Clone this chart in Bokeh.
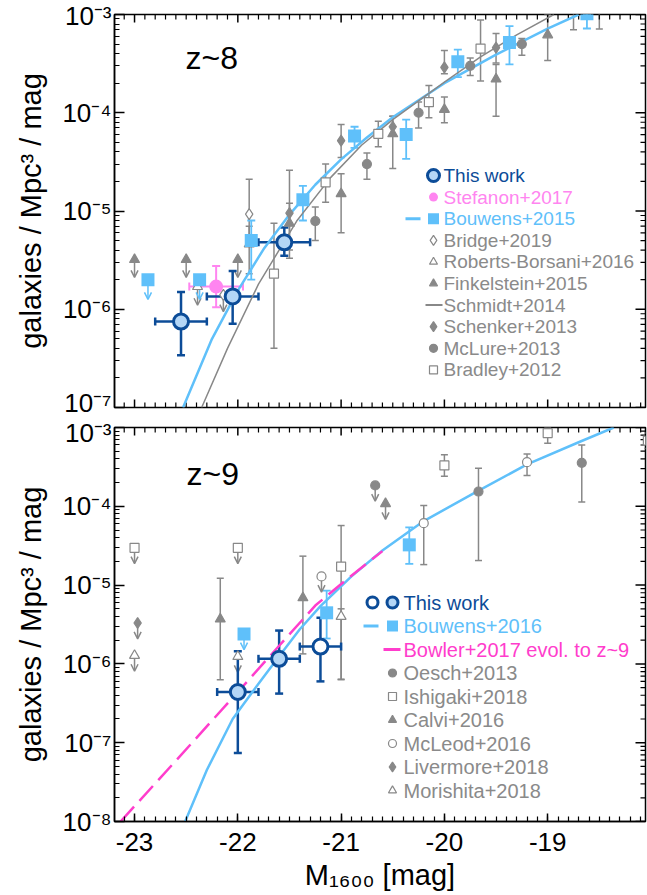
import math
from bokeh.plotting import figure
from bokeh.layouts import column
from bokeh.models import (Range1d, LinearScale, FixedTicker, CustomJSTickFormatter,
                          ColumnDataSource, Whisker, TeeHead, Arrow, OpenHead)
from bokeh.core.properties import value
from bokeh.embed import file_html
from bokeh.resources import INLINE

# ======================= z ~ 8 =======================
# This work
tw8_M = [-22.55, -22.05, -21.55]
tw8_phi = [7.5e-7, 1.35e-6, 4.8e-6]
tw8_hi = [1.5e-6, 2.45e-6, 6.8e-6]
tw8_lo = [3.4e-7, 7.1e-7, 3.5e-6]
tw8_dM = [0.25, 0.25, 0.25]

# Stefanon+2017
stef_M = [-22.21]
stef_phi = [1.7e-6]
stef_hi = [2.75e-6]
stef_lo = [1.05e-6]
stef_dM = [0.26]

# Bouwens+2015 (points, upper limits and Schechter fit)
b15_M = [-21.87, -21.37, -20.87, -20.37, -19.87, -19.37, -18.62]
b15_phi = [5.0e-6, 1.3e-5, 5.8e-5, 6.0e-5, 3.3e-4, 5.2e-4, 1.02e-3]
b15_hi = [8.0e-6, 1.8e-5, 7.2e-5, 8.5e-5, 4.4e-4, 7.6e-4, 1.0e-3]
b15_lo = [2.0e-6, 8.0e-6, 4.4e-5, 3.4e-5, 2.3e-4, 3.1e-4, 7.2e-4]
b15_ul_M = [-22.87, -22.37]
b15_ul_phi = [2.0e-6, 2.0e-6]
b15_fit_M = [-22.53, -22.25, -22.0, -21.75, -21.5, -21.25, -21.0, -20.75,
             -20.5, -20.0, -19.5, -19.0, -18.7]
b15_fit_phi = [1.0e-7, 5.0e-7, 1.55e-6, 4.1e-6, 9.2e-6, 1.85e-5, 3.35e-5,
               5.6e-5, 9.0e-5, 2.0e-4, 3.9e-4, 7.2e-4, 1.0e-3]

# Bridge+2019
bri_M = [-21.89]
bri_phi = [9.3e-6]
bri_hi = [2.1e-5]
bri_lo = [4.6e-6]
bri_ul_M = [-22.14]
bri_ul_phi = [1.4e-6]

# Roberts-Borsani+2016
rb_M = [-21.89]
rb_phi = [4.6e-6]
rb_hi = [7.0e-6]
rb_lo = [2.3e-6]
rb_ul_M = [-22.39]
rb_ul_phi = [1.7e-6]

# Finkelstein+2015
fink_M = [-21.5, -21.0, -20.5, -20.0, -19.5, -19.0, -18.5]
fink_phi = [7.5e-6, 1.5e-5, 6.1e-5, 1.08e-4, 2.2e-4, 6.2e-4, 1.3e-3]
fink_hi = [1.2e-5, 2.4e-5, 9.2e-5, 1.45e-4, 3.1e-4, 1.0e-3, 1.6e-3]
fink_lo = [3.3e-6, 6.0e-6, 2.7e-5, 7.9e-5, 9.2e-5, 3.4e-4, 7.1e-4]
fink_ul_M = [-23.0, -22.5, -22.0]
fink_ul_phi = [3.2e-6, 3.2e-6, 3.2e-6]

# Schmidt+2014 fit
sch_fit_M = [-22.35, -22.1, -21.8, -21.43, -21.1, -20.8, -20.5, -20.0,
             -19.65, -19.3, -18.94]
sch_fit_phi = [1.0e-7, 4.0e-7, 1.8e-6, 7.9e-6, 2.2e-5, 4.7e-5, 8.5e-5,
               2.05e-4, 3.7e-4, 6.2e-4, 1.0e-3]

# Schenker+2013
sk_M = [-21.5, -21.0, -20.5, -20.0, -19.5]
sk_phi = [9.5e-6, 5.2e-5, 7.2e-5, 2.9e-4, 4.6e-4]
sk_hi = [2.6e-5, 7.6e-5, 9.2e-5, 4.3e-4, 6.4e-4]
sk_lo = [4.0e-6, 3.5e-5, 5.8e-5, 2.5e-4, 3.2e-4]

# McLure+2013
mc_M = [-21.25, -20.75, -20.25, -19.75, -19.25, -18.75]
mc_phi = [7.9e-6, 3.0e-5, 1.0e-4, 3.0e-4, 5.0e-4, 1.2e-3]
mc_hi = [1.1e-5, 3.9e-5, 1.29e-4, 3.6e-4, 5.7e-4, 1.5e-3]
mc_lo = [5.0e-6, 2.1e-5, 7.0e-5, 2.4e-4, 3.85e-4, 7.0e-4]

# Bradley+2012
br_M = [-21.65, -21.15, -20.64, -20.15, -19.65]
br_phi = [2.3e-6, 1.96e-5, 6.1e-5, 1.28e-4, 4.5e-4]
br_hi = [7.5e-6, 3.0e-5, 8.2e-5, 1.89e-4, 8.8e-4]
br_lo = [4.0e-7, 1.23e-5, 4.5e-5, 8.9e-5, 2.1e-4]

# ======================= z ~ 9 =======================
# This work (filled and open points)
tw9_M = [-22.0, -21.6]
tw9_phi = [4.4e-7, 1.16e-6]
tw9_hi = [1.45e-6, 2.65e-6]
tw9_lo = [7.4e-8, 4.2e-7]
tw9o_M = [-21.2]
tw9o_phi = [1.66e-6]
tw9o_hi = [3.85e-6]
tw9o_lo = [6.0e-7]
tw9_dM = 0.2

# Bouwens+2016
b16_M = [-21.14, -20.34]
b16_phi = [4.45e-6, 3.24e-5]
b16_hi = [8.5e-6, 5.4e-5]
b16_lo = [2.1e-6, 1.86e-5]
b16_ul_M = [-21.94]
b16_ul_phi = [2.4e-6]
b16_fit_M = [-22.51, -22.3, -22.05, -21.8, -21.6, -21.4, -21.2, -20.9,
             -20.6, -20.2, -19.7, -19.2, -18.7, -18.36]
b16_fit_phi = [1.0e-8, 4.5e-8, 2.0e-7, 5.6e-7, 1.25e-6, 2.75e-6, 5.4e-6,
               1.29e-5, 2.75e-5, 6.5e-5, 1.5e-4, 3.4e-4, 6.5e-4, 1.0e-3]

# Bowler+2017 evolved to z~9
bow_M = [-23.135, -22.6, -22.0, -21.6, -21.25, -20.95, -20.6]
bow_phi = [1.0e-8, 5.9e-8, 4.4e-7, 1.7e-6, 5.5e-6, 1.17e-5, 2.7e-5]

# Oesch+2013
oe_M = [-19.67, -18.67]
oe_phi = [1.54e-4, 3.56e-4]
oe_hi = [3.05e-4, 6.0e-4]
oe_lo = [2.05e-5, 1.13e-4]
oe_ul_M = [-20.67]
oe_ul_phi = [1.84e-4]

# Ishigaki+2018
ish_M = [-21.0, -20.0, -19.0, -18.03]
ish_phi = [1.72e-5, 3.3e-4, 8.5e-4, 6.8e-4]
ish_hi = [5.7e-5, 4.5e-4, 1.0e-3, 8.5e-4]
ish_lo = [6.4e-7, 2.4e-4, 6.3e-4, 5.4e-4]
ish_ul_M = [-23.0, -22.0]
ish_ul_phi = [2.97e-5, 2.97e-5]

# Calvi+2016
cal_M = [-22.17, -21.37]
cal_phi = [3.7e-6, 6.9e-6]
cal_hi = [1.22e-5, 2.33e-5]
cal_lo = [6.3e-7, 1.34e-6]
cal_ul_M = [-20.57]
cal_ul_phi = [1.08e-4]

# McLeod+2016
mcl_M = [-20.2, -19.2]
mcl_phi = [6.1e-5, 3.63e-4]
mcl_hi = [1.02e-4, 4.6e-4]
mcl_lo = [1.82e-5, 2.46e-4]
mcl_ul_M = [-21.19]
mcl_ul_phi = [1.29e-5]

# Livermore+2018
liv_ul_M = [-22.97]
liv_ul_phi = [3.3e-6]

# Morishita+2018
mor_M = [-21.0]
mor_phi = [4.0e-6]
mor_hi = [5.0e-6]
mor_lo = [6.3e-7]
mor_ul_M = [-23.0, -22.0]
mor_ul_phi = [1.28e-6, 1.24e-6]

# axis ticks and key labels
x_major = [-23, -22, -21, -20, -19]
leg8_labels = ["This work", "Stefanon+2017", "Bouwens+2015", "Bridge+2019",
               "Roberts-Borsani+2016", "Finkelstein+2015", "Schmidt+2014",
               "Schenker+2013", "McLure+2013", "Bradley+2012"]
leg9_labels = ["This work", "Bouwens+2016", "Bowler+2017 evol. to z~9",
               "Oesch+2013", "Ishigaki+2018", "Calvi+2016", "McLeod+2016",
               "Livermore+2018", "Morishita+2018"]

# ---------------- styling ----------------
FONT = "Liberation Sans"
XMIN, XMAX = -23.194, -18.053
FRAME_W = 531
C_TW_EDGE = "#0c4c98"
C_TW_FILL = "#b4d6f6"
C_BOUW = "#5fc0fa"
C_STEF = "#ff85f0"
C_BOWL = "#ff3dcc"
C_GRAY = "#888888"
C_GRAY_TXT = "#8a8a8a"

SUPER_JS = """
const e = Math.round(Math.log10(tick));
const sup = {"-": "\u207b", "0": "\u2070", "1": "\u00b9", "2": "\u00b2", "3": "\u00b3",
             "4": "\u2074", "5": "\u2075", "6": "\u2076", "7": "\u2077", "8": "\u2078",
             "9": "\u2079"};
let s = "";
for (const c of String(e)) { s += sup[c]; }
return "10" + s;
"""
HYPHEN_JS = "return (tick < 0 ? '-' : '') + String(Math.abs(tick));"

MINOR_X = [round(-23.1 + 0.1 * i, 2) for i in range(51)]


def style_axis(ax, tick_in):
    ax.major_tick_in = tick_in
    ax.minor_tick_in = 5
    ax.major_tick_out = 0
    ax.minor_tick_out = 0
    ax.axis_line_width = 1.5
    ax.axis_line_color = "black"
    ax.major_tick_line_width = 1.5
    ax.minor_tick_line_width = 1.2
    ax.major_tick_line_color = "black"
    ax.minor_tick_line_color = "black"
    ax.major_label_text_font = FONT
    ax.major_label_text_font_size = "26px"
    ax.major_label_text_color = "black"
    ax.axis_label_text_font = FONT
    ax.axis_label_text_font_size = "29px"
    ax.axis_label_text_font_style = "normal"
    ax.axis_label_text_color = "black"


def mirror_ticks(p, emin, emax, frame_h, bottom_too):
    """Inward tick marks on the unlabelled sides, drawn in frame pixels."""
    span = XMAX - XMIN
    def xp(m):
        return (m - XMIN) / span * FRAME_W
    def yp(v):
        return (math.log10(v) - emin) / (emax - emin) * frame_h
    xs_major = [xp(m) for m in x_major]
    xs_minor = [xp(m) for m in MINOR_X if m not in x_major]
    ys_major = [yp(10.0 ** e) for e in range(emin, emax + 1)]
    ys_minor = [yp(k * 10.0 ** e) for e in range(emin, emax) for k in range(2, 10)]
    kw = dict(line_color="black", x_range_name="px", y_range_name="px")
    # top side
    p.segment(xs_major, [frame_h] * len(xs_major), xs_major, [frame_h - 8] * len(xs_major),
              line_width=1.5, **kw)
    p.segment(xs_minor, [frame_h] * len(xs_minor), xs_minor, [frame_h - 5] * len(xs_minor),
              line_width=1.2, **kw)
    if bottom_too:
        p.segment(xs_major, [0] * len(xs_major), xs_major, [8] * len(xs_major),
                  line_width=1.5, **kw)
        p.segment(xs_minor, [0] * len(xs_minor), xs_minor, [5] * len(xs_minor),
                  line_width=1.2, **kw)
    # right side
    p.segment([FRAME_W] * len(ys_major), ys_major, [FRAME_W - 10] * len(ys_major), ys_major,
              line_width=1.5, **kw)
    p.segment([FRAME_W] * len(ys_minor), ys_minor, [FRAME_W - 5] * len(ys_minor), ys_minor,
              line_width=1.2, **kw)


def panel(emin, emax, height, b_top, b_bottom, frame_h, labelled):
    p = figure(width=647, height=height,
               x_range=Range1d(XMIN, XMAX),
               y_range=Range1d(10.0 ** emin, 10.0 ** emax),
               y_axis_type="log", output_backend="svg", toolbar_location=None,
               min_border_left=114, min_border_right=2,
               min_border_top=b_top, min_border_bottom=b_bottom)
    p.xgrid.visible = False
    p.ygrid.visible = False
    p.outline_line_color = "black"
    p.outline_line_width = 1.5
    p.background_fill_color = "white"
    p.border_fill_color = "white"

    p.extra_x_ranges = {"px": Range1d(0, FRAME_W)}
    p.extra_y_ranges = {"px": Range1d(0, frame_h)}
    p.extra_x_scales = {"px": LinearScale()}
    p.extra_y_scales = {"px": LinearScale()}

    yt = FixedTicker(ticks=[10.0 ** e for e in range(emin, emax + 1)],
                     minor_ticks=[k * 10.0 ** e for e in range(emin, emax) for k in range(2, 10)])
    left = p.left[0]
    left.ticker = yt
    left.formatter = CustomJSTickFormatter(code=SUPER_JS)
    style_axis(left, 10)
    left.axis_label = "galaxies / Mpc\u00b3 / mag"
    left.major_label_standoff = 3
    left.axis_label_standoff = 12

    bot = p.below[0]
    if labelled:
        bot.ticker = FixedTicker(ticks=x_major, minor_ticks=MINOR_X)
        bot.formatter = CustomJSTickFormatter(code=HYPHEN_JS)
        style_axis(bot, 8)
        bot.axis_label = "M\u2081\u2086\u2080\u2080 [mag]"
        bot.major_label_standoff = 11
        bot.axis_label_standoff = 5
    else:
        bot.visible = False
    mirror_ticks(p, emin, emax, frame_h, not labelled)
    return p


def yerr(p, x, y, lo, hi, color, lw=1.5, cap=7):
    src = ColumnDataSource(dict(x=x, y=y, lo=lo, hi=hi))
    p.add_layout(Whisker(source=src, base="x", lower="lo", upper="hi", dimension="height",
                         line_color=color, line_width=lw, level="underlay",
                         lower_head=TeeHead(size=cap, line_color=color, line_width=lw),
                         upper_head=TeeHead(size=cap, line_color=color, line_width=lw)))


def xerr(p, x, y, dx, color, lw=2.5, cap=8):
    src = ColumnDataSource(dict(y=y, lo=[a - d for a, d in zip(x, dx)],
                                hi=[a + d for a, d in zip(x, dx)]))
    p.add_layout(Whisker(source=src, base="y", lower="lo", upper="hi", dimension="width",
                         line_color=color, line_width=lw, level="underlay",
                         lower_head=TeeHead(size=cap, line_color=color, line_width=lw),
                         upper_head=TeeHead(size=cap, line_color=color, line_width=lw)))


def limits(p, x, y, color, drop, lw=1.5):
    src = ColumnDataSource(dict(x=x, y=y, ye=[v * 10 ** (-drop) for v in y]))
    p.add_layout(Arrow(source=src, x_start="x", y_start="y", x_end="x", y_end="ye",
                       line_color=color, line_width=lw, level="underlay",
                       end=OpenHead(size=7, line_color=color, line_width=lw)))


def pts(p, x, y, marker, size, fill, edge, lw=1.2):
    p.scatter(x, y, marker=marker, size=size, fill_color=fill, line_color=edge,
              line_width=lw)


def key_text(p, x, y, txt, color, size):
    p.text([x], [y], text=[txt], x_range_name="px", y_range_name="px",
           text_font=value(FONT), text_font_size=value(size), text_color=color,
           text_baseline="middle", text_align="left")


def key_marker(p, x, y, marker, size, fill, edge, lw=1.2):
    p.scatter([x], [y], marker=marker, size=size, fill_color=fill, line_color=edge,
              line_width=lw, x_range_name="px", y_range_name="px")


def key_line(p, x0, x1, y, color, lw):
    p.line([x0, x1], [y, y], line_color=color, line_width=lw,
           x_range_name="px", y_range_name="px")


# ======================= top panel: z ~ 8 =======================
top = panel(-7, -3, 417, 14, 10, 393, False)
top.line(b15_fit_M, b15_fit_phi, line_color=C_BOUW, line_width=2.5)
top.line(sch_fit_M, sch_fit_phi, line_color=C_GRAY, line_width=1.5)

for M, ph, lo, hi in [(bri_M, bri_phi, bri_lo, bri_hi), (rb_M, rb_phi, rb_lo, rb_hi),
                      (fink_M, fink_phi, fink_lo, fink_hi), (sk_M, sk_phi, sk_lo, sk_hi),
                      (mc_M, mc_phi, mc_lo, mc_hi), (br_M, br_phi, br_lo, br_hi)]:
    yerr(top, M, ph, lo, hi, C_GRAY)
yerr(top, b15_M, b15_phi, b15_lo, b15_hi, C_BOUW, lw=1.8, cap=8)
limits(top, fink_ul_M, fink_ul_phi, C_GRAY, 0.18)
limits(top, rb_ul_M, rb_ul_phi, C_GRAY, 0.19)
limits(top, bri_ul_M, bri_ul_phi, C_GRAY, 0.17)
limits(top, b15_ul_M, b15_ul_phi, C_BOUW, 0.2)

pts(top, bri_M + bri_ul_M, bri_phi + bri_ul_phi, "diamond", 11, "white", C_GRAY)
pts(top, rb_M + rb_ul_M, rb_phi + rb_ul_phi, "triangle", 10, "white", C_GRAY)
pts(top, fink_M + fink_ul_M, fink_phi + fink_ul_phi, "triangle", 10, C_GRAY, C_GRAY)
pts(top, sk_M, sk_phi, "diamond", 11, C_GRAY, C_GRAY)
pts(top, mc_M, mc_phi, "circle", 9, C_GRAY, C_GRAY)
pts(top, br_M, br_phi, "square", 9, "white", C_GRAY)
pts(top, b15_M + b15_ul_M, b15_phi + b15_ul_phi, "square", 13, C_BOUW, C_BOUW, 0)

xerr(top, stef_M, stef_phi, stef_dM, C_STEF, lw=2, cap=8)
yerr(top, stef_M, stef_phi, stef_lo, stef_hi, C_STEF, lw=2, cap=8)
pts(top, stef_M, stef_phi, "circle", 14, C_STEF, C_STEF, 0)

xerr(top, tw8_M, tw8_phi, tw8_dM, C_TW_EDGE)
yerr(top, tw8_M, tw8_phi, tw8_lo, tw8_hi, C_TW_EDGE, lw=2.5, cap=8)
pts(top, tw8_M, tw8_phi, "circle", 15, C_TW_FILL, C_TW_EDGE, 3)

key_text(top, 71, 350, "z~8", "black", "32px")

# key block (frame pixels)
k8_y0, k8_dy, k8_xm, k8_xt = 232, 21.6, 319, 329
k8_style = [
    ("circle", 12, C_TW_FILL, C_TW_EDGE, 3),
    ("circle", 9, C_STEF, C_STEF, 0),
    ("square", 11, C_BOUW, C_BOUW, 0),
    ("diamond", 10, "white", C_GRAY, 1.2),
    ("triangle", 8, "white", C_GRAY, 1.2),
    ("triangle", 8, C_GRAY, C_GRAY, 1.2),
    None,
    ("diamond", 10, C_GRAY, C_GRAY, 1.2),
    ("circle", 8, C_GRAY, C_GRAY, 1.2),
    ("square", 8, "white", C_GRAY, 1.2),
]
k8_colors = [C_TW_EDGE, C_STEF, C_BOUW] + [C_GRAY_TXT] * 7
for i, (lab, sty, col) in enumerate(zip(leg8_labels, k8_style, k8_colors)):
    y = k8_y0 - i * k8_dy
    if sty is not None:
        key_marker(top, k8_xm, y, *sty)
    else:
        key_line(top, 311, 328, y, C_GRAY, 2)
    if lab == "Bouwens+2015":
        key_line(top, 291, 306, y, C_BOUW, 3)
    key_text(top, k8_xt, y, lab, col, "19px")

# ======================= bottom panel: z ~ 9 =======================
bot = panel(-8, -3, 478, 10, 74, 394, True)
bot.line(b16_fit_M, b16_fit_phi, line_color=C_BOUW, line_width=2.5)
bot.line(bow_M, bow_phi, line_color=C_BOWL, line_width=2.5, line_dash="20 8")

for M, ph, lo, hi in [(oe_M, oe_phi, oe_lo, oe_hi), (ish_M, ish_phi, ish_lo, ish_hi),
                      (cal_M, cal_phi, cal_lo, cal_hi), (mcl_M, mcl_phi, mcl_lo, mcl_hi),
                      (mor_M, mor_phi, mor_lo, mor_hi)]:
    yerr(bot, M, ph, lo, hi, C_GRAY)
yerr(bot, b16_M, b16_phi, b16_lo, b16_hi, C_BOUW, lw=1.8, cap=8)
for M, ph in [(oe_ul_M, oe_ul_phi), (ish_ul_M, ish_ul_phi), (cal_ul_M, cal_ul_phi),
              (mcl_ul_M, mcl_ul_phi), (liv_ul_M, liv_ul_phi), (mor_ul_M, mor_ul_phi)]:
    limits(bot, M, ph, C_GRAY, 0.2)
limits(bot, b16_ul_M, b16_ul_phi, C_BOUW, 0.2)

pts(bot, oe_M + oe_ul_M, oe_phi + oe_ul_phi, "circle", 9, C_GRAY, C_GRAY)
pts(bot, ish_M + ish_ul_M, ish_phi + ish_ul_phi, "square", 9, "white", C_GRAY)
pts(bot, cal_M + cal_ul_M, cal_phi + cal_ul_phi, "triangle", 10, C_GRAY, C_GRAY)
pts(bot, mcl_M + mcl_ul_M, mcl_phi + mcl_ul_phi, "circle", 9, "white", C_GRAY)
pts(bot, liv_ul_M, liv_ul_phi, "diamond", 11, C_GRAY, C_GRAY)
pts(bot, mor_M + mor_ul_M, mor_phi + mor_ul_phi, "triangle", 10, "white", C_GRAY)
pts(bot, b16_M + b16_ul_M, b16_phi + b16_ul_phi, "square", 13, C_BOUW, C_BOUW, 0)

all9_M = tw9_M + tw9o_M
all9_phi = tw9_phi + tw9o_phi
xerr(bot, all9_M, all9_phi, [tw9_dM] * len(all9_M), C_TW_EDGE)
yerr(bot, all9_M, all9_phi, tw9_lo + tw9o_lo, tw9_hi + tw9o_hi, C_TW_EDGE, lw=2.5, cap=8)
pts(bot, tw9_M, tw9_phi, "circle", 15, C_TW_FILL, C_TW_EDGE, 3)
pts(bot, tw9o_M, tw9o_phi, "circle", 15, "white", C_TW_EDGE, 3)

key_text(bot, 72, 348, "z~9", "black", "32px")

k9_y0, k9_dy, k9_xm, k9_xt = 219, 23.5, 278, 289
k9_colors = [C_TW_EDGE, C_BOUW, C_BOWL] + [C_GRAY_TXT] * 6
k9_style = [
    ("circle", 11, C_TW_FILL, C_TW_EDGE, 3),
    ("square", 11, C_BOUW, C_BOUW, 0),
    None,
    ("circle", 8, C_GRAY, C_GRAY, 1.2),
    ("square", 8, "white", C_GRAY, 1.2),
    ("triangle", 8, C_GRAY, C_GRAY, 1.2),
    ("circle", 8, "white", C_GRAY, 1.2),
    ("diamond", 10, C_GRAY, C_GRAY, 1.2),
    ("triangle", 8, "white", C_GRAY, 1.2),
]
for i, (lab, sty, col) in enumerate(zip(leg9_labels, k9_style, k9_colors)):
    y = k9_y0 - i * k9_dy
    if sty is not None:
        key_marker(bot, k9_xm, y, *sty)
    else:
        key_line(bot, 269, 286, y, C_BOWL, 3)
    if i == 0:
        key_marker(bot, 258, y, "circle", 11, "white", C_TW_EDGE, 3)
    if i == 1:
        key_line(bot, 249, 264, y, C_BOUW, 3)
    key_text(bot, k9_xt, y, lab, col, "20px")

layout = column(top, bot, spacing=0)
open("out.html", "w").write(file_html(layout, INLINE))
